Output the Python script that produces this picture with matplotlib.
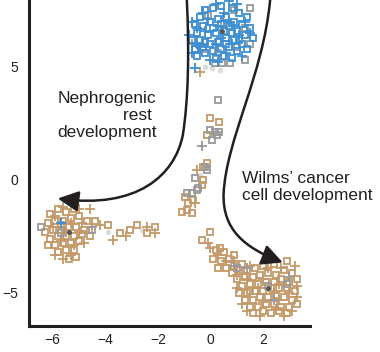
import matplotlib
matplotlib.use("Agg")
import matplotlib.pyplot as plt
from matplotlib.path import Path
from matplotlib.patches import FancyArrowPatch

plt.rcParams['font.family'] = ['Liberation Sans', 'DejaVu Sans']

# ---- data ----
blue_sq_x = [-0.6, -0.4, -0.2, 0.1, 0.4, 0.8, 1.1, 1.4, -0.5, -0.3, 0.0, 0.3, 0.6, 0.9, 1.2, 1.5,
             -0.7, -0.4, -0.1, 0.2, 0.5, 0.7, 1.0, 1.3, 1.6, -0.6, -0.3, 0.0, 0.3, 0.6, 0.9, 1.2,
             -0.2, 0.1, 0.4, 0.7, 1.0, 1.4, 0.2, 0.5, 0.8, -0.5, 0.4, 0.1, 0.8, -0.2, 0.6, 1.1]
blue_sq_y = [6.9, 7.2, 7.5, 7.6, 7.7, 7.6, 7.4, 7.2, 6.5, 6.8, 7.0, 7.1, 7.2, 7.0, 6.9, 6.7,
             6.2, 6.2, 6.4, 6.5, 6.6, 6.8, 6.6, 6.4, 6.3, 5.8, 5.9, 6.0, 6.1, 6.3, 6.2, 6.0,
             5.6, 5.7, 5.8, 5.9, 5.7, 5.8, 5.4, 5.5, 5.4, 5.5, 6.9, 6.7, 6.5, 6.1, 6.0, 6.2]
blue_pl_x = [-0.3, 0.2, 0.7, 1.0, -0.7, -0.1, 0.5, 1.3, -0.5, 0.3, 0.9, 1.5, -0.8, -0.2,
             0.4, 1.1, -0.4, 0.2, 0.8, -0.7, 0.0, 0.6, 1.2, -0.6, 0.3, -0.5, 0.7, -5.7]
blue_pl_y = [7.4, 7.8, 7.9, 7.8, 7.0, 7.1, 7.4, 7.0, 6.7, 6.8, 6.8, 6.5, 6.4, 6.6,
             6.3, 6.4, 5.9, 6.0, 6.0, 5.6, 5.3, 5.6, 5.5, 4.95, 5.2, 6.0, 7.0, -1.9]

tan_sq_x = [0.2, 0.5, 0.1, 0.4, 0.7, 0.3, 0.6, 0.9, 1.2, 0.8, 1.1, 1.4, 1.7, 2.0, 2.4, 2.9,
            1.0, 1.3, 1.6, 1.9, 2.2, 2.5, 2.8, 3.1, 1.2, 1.5, 1.8, 2.1, 2.4, 2.7, 3.0, 3.3,
            1.1, 1.4, 1.7, 2.0, 2.3, 2.6, 2.9, 3.2, 1.3, 1.6, 1.9, 2.2, 2.5, 2.8, 3.1, 1.5,
            1.8, 2.1, 2.4, 2.7, 3.0, 3.3, 1.6, 2.0, 2.3, 2.6, 2.9, 0.9, 1.5,
            -6.1, -5.8, -5.5, -5.2, -6.2, -5.9, -5.6, -5.3, -5.0, -4.7, -4.4, -6.3, -6.0, -5.7,
            -5.4, -5.1, -4.8, -6.1, -5.8, -5.5, -5.2, -4.9, -6.2, -5.9, -5.6, -5.3, -5.0, -5.8,
            -5.5, -5.2, -5.4, -5.1, -5.7, -4.6,
            -3.45, -3.07, -2.80, -2.42, -2.11, -3.9,
            -0.02, 0.32, -0.13, -0.13, -0.29, -0.29, -0.32, -0.97, -0.86, -0.67, -0.90, -0.70,
            -1.09, -0.32, 0.36, 0.0]
tan_sq_y = [-3.1, -3.2, -3.5, -3.6, -3.5, -3.9, -3.9, -3.8, -3.7, -4.1, -4.0, -4.0, -3.9, -3.8,
            -3.7, -3.6, -4.4, -4.3, -4.3, -4.2, -4.1, -4.2, -4.0, -4.1, -4.7, -4.6, -4.6, -4.5,
            -4.5, -4.4, -4.5, -4.4, -5.0, -5.0, -4.9, -4.9, -4.8, -4.8, -4.8, -4.9, -5.3, -5.3,
            -5.2, -5.2, -5.1, -5.2, -5.3, -5.6, -5.6, -5.5, -5.5, -5.6, -5.6, -5.5, -5.9, -5.8,
            -5.9, -5.8, -5.9, -3.3, -4.9,
            -1.5, -1.3, -1.4, -1.3, -1.9, -1.8, -1.8, -1.7, -1.6, -1.8, -1.8, -2.3, -2.2, -2.2,
            -2.1, -2.1, -2.2, -2.6, -2.5, -2.5, -2.5, -2.4, -2.9, -2.9, -2.8, -2.8, -2.7, -3.2,
            -3.1, -3.1, -3.5, -3.4, -2.0, -2.5,
            -2.35, -2.21, -1.99, -2.35, -2.08, -2.0,
            2.74, 2.57, 1.99, 0.75, 0.58, 0.0, -0.22, -0.75, -1.02, -0.88, -1.33, -1.46,
            -1.42, -2.65, -3.0, -2.3]
tan_pl_x = [0.0, 0.3, 0.9, 1.0, 1.5, 2.2, 2.7, 3.2, 1.4, 2.0, 2.6, 3.3, 1.0, 1.8, 2.4, 3.0,
            1.2, 2.0, 2.6, 3.3, 1.9, 2.5, 3.1, 2.8, 1.4, 0.6,
            -5.6, -5.0, -4.6, -5.9, -5.3, -4.9, -6.0, -5.5, -5.0, -5.7, -5.2, -4.8, -5.9, -5.3,
            -4.5, -5.6, -3.7, -2.42, -2.11, -4.2, -3.2,
            -0.51, -0.59, -0.10, -0.4]
tan_pl_y = [-3.0, -3.3, -3.6, -4.2, -3.8, -3.9, -3.9, -3.8, -4.4, -4.4, -4.6, -4.7, -4.8,
            -4.8, -5.0, -5.0, -5.5, -5.4, -5.3, -5.2, -6.0, -5.7, -5.8, -6.0, -5.8, -3.6,
            -1.2, -1.3, -1.3, -1.6, -1.9, -1.9, -2.1, -2.3, -2.3, -2.7, -2.9, -2.8, -3.3, -3.3,
            -2.1, -3.5, -2.65, -2.08, -2.35, -2.0, -2.5,
            0.44, -1.02, -2.79, 4.78]

gray_sq_x = [-0.1, 0.9, 1.5, 0.5, 1.3, -0.3, 1.0, 1.5, 0.3, 0.17, 0.44, 0.74, -0.6, 1.3,
             0.29, -0.02, 0.17, 0.32, 0.06, 0.25, -0.21, -0.13, -0.59, -0.48, -0.9, -0.7, -0.51,
             1.0, 2.2, 2.9, -6.46, -5.7, -4.5]
gray_sq_y = [7.3, 7.5, 7.6, 6.9, 6.7, 5.8, 5.9, 6.0, 5.6, 5.18, 5.18, 5.18, 5.8, 5.3,
             3.54, 2.21, 2.12, 2.12, 1.77, 1.99, 0.58, 0.44, 0.09, -0.35, -0.58, -0.58, -0.44,
             -3.9, -4.7, -4.6, -2.08, -2.35, -2.2]
gray_pl_x = [-0.7, -0.32, 0.9, 1.4, 3.0, 2.4]
gray_pl_y = [6.0, 1.50, -3.8, -3.9, -4.3, -5.3]

faint_x = [-0.21, 0.06, 0.36, -4.5, -3.9, -2.6, -0.4, 1.8]
faint_y = [5.0, 4.96, 4.87, -2.0, -2.3, -2.2, 0.2, -4.4]

xticks = [-6, -4, -2, 0, 2]
yticks = [-5, 0, 5]

BLUE = "#3b8fd2"
TAN = "#c49868"
GRAY = "#999999"
INK = "#231f20"

fig = plt.figure(figsize=(3.8, 3.52), dpi=100)
ax = fig.add_axes([0.076, 0.074, 0.74, 0.926])

sq = dict(ls="none", marker="s", mfc="none", ms=4.8, mew=1.3)
pl = dict(ls="none", marker="+", ms=6.8, mew=1.3)

ax.plot(faint_x, faint_y, ls="none", marker="o", ms=4, color="#dcdcdc", mec="none")
ax.plot(tan_sq_x, tan_sq_y, color=TAN, **sq)
ax.plot(tan_pl_x, tan_pl_y, color=TAN, **pl)
ax.plot(gray_sq_x, gray_sq_y, color=GRAY, **sq)
ax.plot(gray_pl_x, gray_pl_y, color=GRAY, **pl)
ax.plot(blue_sq_x, blue_sq_y, color=BLUE, **sq)
ax.plot(blue_pl_x, blue_pl_y, color=BLUE, **pl)
# dark centroids
ax.plot([0.45, 2.2, -5.4], [6.6, -4.8, -2.3], ls="none", marker="o", ms=2.5, color="#555555")

# curved arrows
C = Path.CURVE4
left_path = Path([(-0.90, 7.96), (-0.80, 5.5), (-0.85, 3.5), (-1.05, 2.0),
                  (-1.35, 0.2), (-2.8, -1.3), (-5.81, -0.82)],
                 [Path.MOVETO, C, C, C, C, C, C])
right_path = Path([(2.27, 7.96), (2.0, 4.6), (0.6, 1.8), (0.5, -0.6),
                   (0.45, -2.2), (1.3, -3.0), (2.75, -3.65)],
                  [Path.MOVETO, C, C, C, C, C, C])
for p in (left_path, right_path):
    ax.add_patch(FancyArrowPatch(path=p, arrowstyle="-|>,head_length=0.9,head_width=0.45",
                                 mutation_scale=14, color=INK, lw=1.8, zorder=5))

ax.text(-2.05, 2.85, "Nephrogenic\nrest \ndevelopment", ha="right", va="center",
        multialignment="right", fontsize=12.5, color=INK, linespacing=1.2)
ax.text(1.2, -0.3, "Wilms\u2019 cancer\ncell development", ha="left", va="center",
        fontsize=12.5, color=INK, linespacing=1.2)

ax.set_xlim(-6.91, 3.79)
ax.set_ylim(-6.46, 7.96)
ax.set_xticks(xticks)
ax.set_yticks(yticks)
for s in ("top", "right"):
    ax.spines[s].set_visible(False)
for s in ("left", "bottom"):
    ax.spines[s].set_linewidth(2.2)
    ax.spines[s].set_color(INK)
ax.tick_params(axis="x", length=0, pad=5, labelsize=10, labelcolor=INK)
ax.tick_params(axis="y", length=0, pad=8, labelsize=10, labelcolor=INK)

fig.savefig("out.png", dpi=100)
